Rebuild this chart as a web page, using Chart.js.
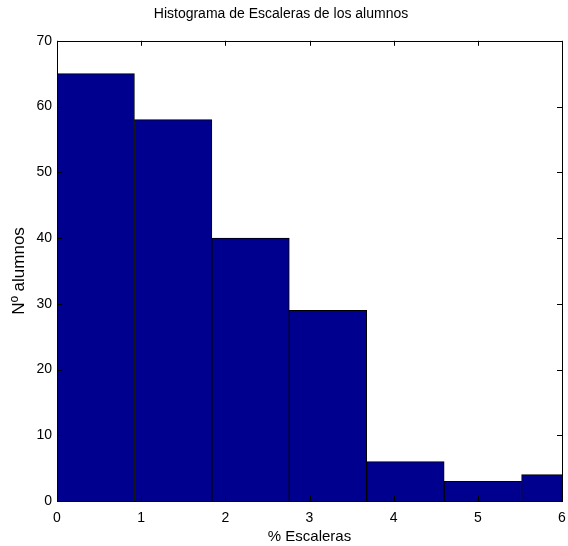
<!DOCTYPE html>
<html>
<head>
<meta charset="utf-8">
<script src="https://cdn.jsdelivr.net/npm/chart.js@4/dist/chart.umd.min.js"></script>
<style>
  html, body { margin: 0; padding: 0; background: #fff; }
  #wrap { width: 568px; height: 546px; }
</style>
</head>
<body>
<div id="wrap"><canvas id="myChart"></canvas></div>
<script>
// bin centres (% Escaleras) and counts
var binCenters = [0.46, 1.38, 2.30, 3.22, 4.14, 5.06, 5.98];
var counts = [65, 58, 40, 29, 6, 3, 4];

var xTicks = [0, 1, 2, 3, 4, 5, 6];
var yTicks = [0, 10, 20, 30, 40, 50, 60, 70];

var points = binCenters.map(function (x, i) { return { x: x, y: counts[i] }; });

// MATLAB style box with inward ticks on all four sides
const boxTicks = {
    id: 'boxTicks',
    afterDatasetsDraw(chart) {
        const ctx = chart.ctx;
        const a = chart.chartArea;
        const xs = chart.scales.x;
        const ys = chart.scales.y;
        const len = 5;
        ctx.save();
        ctx.strokeStyle = '#000';
        ctx.lineWidth = 1;
        ctx.beginPath();
        xTicks.forEach(function (v) {
            const px = Math.round(xs.getPixelForValue(v)) + 0.5;
            ctx.moveTo(px, a.bottom); ctx.lineTo(px, a.bottom - len);
            ctx.moveTo(px, a.top); ctx.lineTo(px, a.top + len);
        });
        yTicks.forEach(function (v) {
            const py = Math.round(ys.getPixelForValue(v)) + 0.5;
            ctx.moveTo(a.left, py); ctx.lineTo(a.left + len, py);
            ctx.moveTo(a.right, py); ctx.lineTo(a.right - len, py);
        });
        ctx.stroke();
        ctx.strokeRect(Math.round(a.left) + 0.5, Math.round(a.top) + 0.5,
            Math.round(a.right - a.left), Math.round(a.bottom - a.top));
        ctx.restore();
    }
};

const data = {
    datasets: [{
        label: 'Nº alumnos',
        backgroundColor: 'rgb(0, 0, 143)',
        borderColor: '#000',
        borderWidth: 1,
        barPercentage: 1,
        categoryPercentage: 1,
        data: points
    }]
};

const config = {
    type: 'bar',
    data: data,
    options: {
        responsive: true,
        maintainAspectRatio: false,
        animation: false,
        layout: { padding: { left: 0, right: 6, top: 0, bottom: 0 } },
        plugins: {
            legend: { display: false },
            tooltip: { enabled: false },
            title: {
                display: true,
                text: 'Histograma de Escaleras de los alumnos',
                color: '#000',
                font: { family: 'Liberation Sans', size: 14, weight: 'normal' },
                padding: { top: 6, bottom: 18 }
            }
        },
        scales: {
            x: {
                type: 'linear',
                min: 0,
                max: 6,
                offset: false,
                grid: { display: false, drawTicks: false },
                border: { display: false },
                ticks: {
                    stepSize: 1,
                    color: '#000',
                    padding: 9,
                    font: { family: 'Liberation Sans', size: 14 }
                },
                title: {
                    display: true,
                    text: '% Escaleras',
                    color: '#000',
                    font: { family: 'Liberation Sans', size: 15 },
                    padding: { top: 0, bottom: 0 }
                },
                afterFit: function (s) {
                    s.height = 45;
                    s.paddingLeft = 0;
                    s.paddingRight = 0;
                }
            },
            y: {
                min: 0,
                max: 70,
                grid: { display: false, drawTicks: false },
                border: { display: false },
                ticks: {
                    stepSize: 10,
                    color: '#000',
                    padding: 5,
                    font: { family: 'Liberation Sans', size: 14 }
                },
                title: {
                    display: true,
                    text: 'Nº alumnos',
                    color: '#000',
                    font: { family: 'Liberation Sans', size: 17 },
                    padding: { top: 9, bottom: 0 }
                },
                afterFit: function (s) { s.width = 57; }
            }
        }
    },
    plugins: [boxTicks]
};

const myChart = new Chart(document.getElementById('myChart'), config);
</script>
</body>
</html>
